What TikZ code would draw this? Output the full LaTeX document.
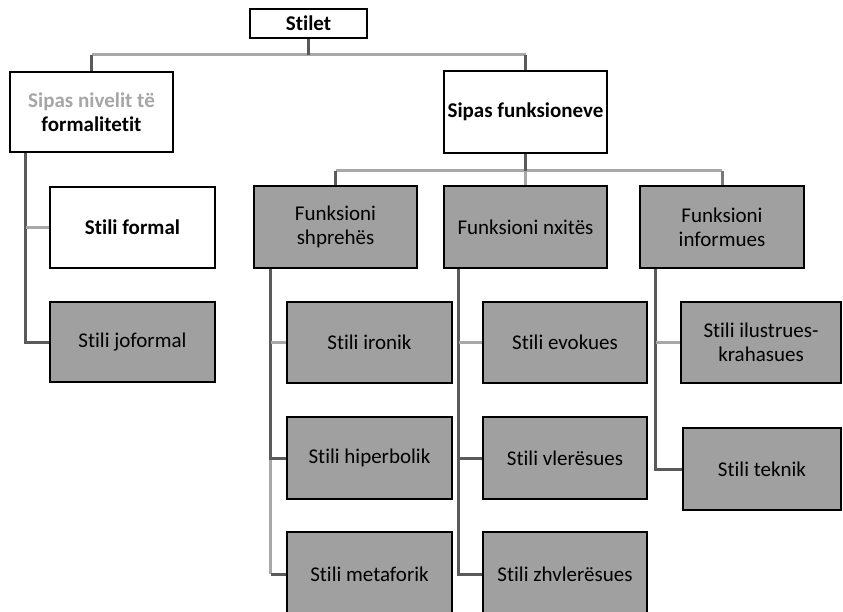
\documentclass[tikz,border=0pt]{standalone}
\usepackage{fontspec}
\setmainfont{Carlito}[Ligatures=NoCommon]
\definecolor{boxgray}{HTML}{A0A0A0}
\definecolor{darkln}{HTML}{5A5A5A}
\definecolor{lightln}{HTML}{A8A8A8}
\definecolor{graytxt}{HTML}{A6A6A6}
\begin{document}
\begin{tikzpicture}[x=1pt,y=-1pt,
  box/.style={draw=black,line width=2.8pt,fill=boxgray,minimum width=164pt,minimum height=81pt,
    inner sep=1pt,align=center,font=\fontsize{21}{24}\selectfont},
  wbox/.style={box,fill=white,font=\fontsize{21}{24}\selectfont\bfseries},
  dk/.style={draw=darkln,line width=3pt},
  lt/.style={draw=lightln,line width=3pt},
  md/.style={draw=darkln!60!lightln,line width=3pt}]
\clip (0,0) rectangle (843,612);
\fill[white] (0,0) rectangle (843,612);
% level 1
\node[wbox,minimum width=117pt,minimum height=29pt] (stilet) at (308.5,23.5) {Stilet};
% level 2
\node[wbox,minimum width=163pt,minimum height=80pt] (niv) at (91.5,112) {\textcolor{graytxt}{Sipas nivelit të}\\formalitetit};
\node[wbox,minimum width=163pt,minimum height=82pt,inner sep=0pt] (funk) at (525.5,112) {Sipas funksioneve};
% level 3
\node[box,minimum width=163pt,minimum height=82pt] (shpr) at (335.5,227) {Funksioni\\shprehës};
\node[box,minimum width=163pt,minimum height=82pt] (nxit) at (525.5,227) {Funksioni nxitës};
\node[box,minimum width=164pt,minimum height=82pt] (info) at (722,227) {Funksioni\\informues};
\node[wbox,minimum width=165pt] (formal) at (132.5,227.5) {Stili formal};
\node[box,minimum width=165pt,minimum height=80pt] (jof) at (132.5,342) {Stili joformal};
% level 4
\node[box,minimum width=165pt] (iron) at (369.5,342.5) {Stili ironik};
\node[box,minimum width=165pt,minimum height=82pt] (hiper) at (369.5,458) {Stili hiperbolik};
\node[box,minimum width=165pt,minimum height=84pt] (meta) at (369.5,574) {Stili metaforik};
\node[box,minimum width=164pt] (evok) at (565,342.5) {Stili evokues};
\node[box,minimum width=164pt,minimum height=82pt] (vler) at (565,458) {Stili vlerësues};
\node[box,minimum width=164pt,minimum height=84pt] (zhvl) at (565,574) {Stili zhvlerësues};
\node[box,minimum width=160pt] (ilus) at (761,342.5) {Stili ilustrues-\\krahasues};
\node[box,minimum width=158pt,minimum height=82pt] (tekn) at (762,469) {Stili teknik};
% bus and branch points
\coordinate (b1) at (308.5,55);
\coordinate (b2) at (525.5,171);
\coordinate (v0) at ([xshift=17pt]niv.south west);
\coordinate (v1) at ([xshift=18pt]shpr.south west);
\coordinate (v2) at ([xshift=16pt]nxit.south west);
\coordinate (v3) at ([xshift=17pt]info.south west);
% top bus
\draw[lt] (niv.north |- b1) -- (funk.north |- b1);
\draw[dk] (stilet.south) -- (b1);
\draw[dk] (niv.north |- b1) -- (niv.north);
\draw[dk] (funk.north |- b1) -- (funk.north);
% second bus
\draw[lt] (shpr.north |- b2) -- (info.north |- b2);
\draw[dk] (funk.south) -- (b2);
\draw[dk] (shpr.north |- b2) -- (shpr.north);
\draw[lt] (b2) -- (nxit.north);
\draw[md] (info.north |- b2) -- (info.north);
% left branch
\draw[dk] (v0) -- (v0 |- jof.west) -- (jof.west);
\draw[lt] (v0 |- formal.west) -- (formal.west);
% shprehes branch
\draw[lt] (v1 |- hiper.west) -- (v1 |- meta.west);
\draw[dk] (v1) -- (v1 |- hiper.west) -- (hiper.west);
\draw[lt] (v1 |- iron.west) -- (iron.west);
\draw[dk] (v1 |- meta.west) -- (meta.west);
% nxites branch
\draw[dk] (v2) -- (v2 |- zhvl.west) -- (zhvl.west);
\draw[lt] (v2 |- evok.west) -- (evok.west);
\draw[dk] (v2 |- vler.west) -- (vler.west);
% informues branch
\draw[dk] (v3) -- (v3 |- tekn.west) -- (tekn.west);
\draw[lt] (v3 |- ilus.west) -- (ilus.west);
\end{tikzpicture}
\end{document}
